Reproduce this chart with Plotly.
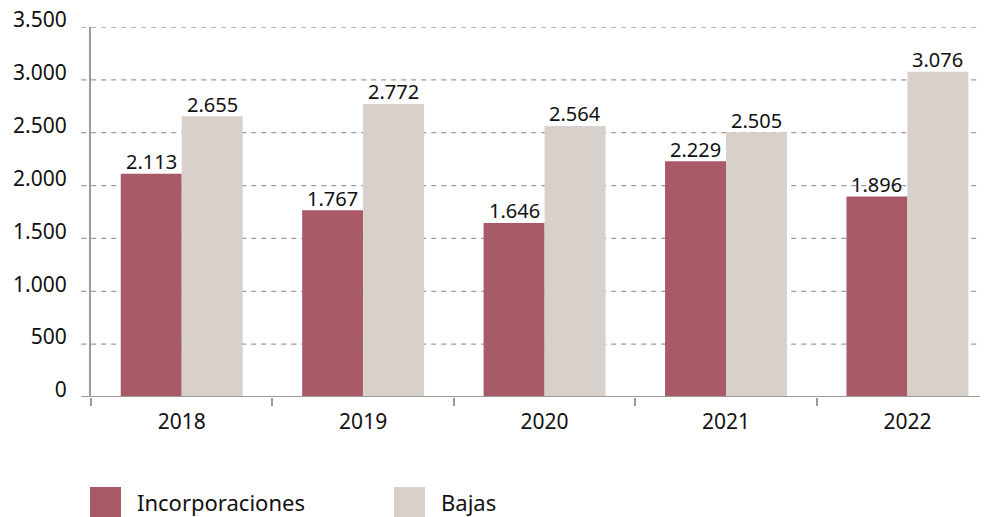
import plotly.graph_objects as go

years = ["2018", "2019", "2020", "2021", "2022"]
incorporaciones = [2113, 1767, 1646, 2229, 1896]
bajas = [2655, 2772, 2564, 2505, 3076]
series_names = ["Incorporaciones", "Bajas"]
y_ticks = [0, 500, 1000, 1500, 2000, 2500, 3000, 3500]

RED = "#a85a66"
BEIGE = "#d8d0cb"
GRID = "#9a9a9a"
FONT = "Noto Sans"
FS = 21
BARGAP = 0.328
PLOT_W = 889
X_RANGE = [-0.5, 4.4]

fig = go.Figure()
for name, vals, col in [(series_names[0], incorporaciones, RED), (series_names[1], bajas, BEIGE)]:
    fig.add_trace(go.Bar(x=years, y=vals, name=name, marker_color=col,
                         marker_line_width=0, showlegend=False))

# value labels just above each bar (plotly's own outside text sits too high)
px_per_cat = PLOT_W / (X_RANGE[1] - X_RANGE[0])
half_bar = (1 - BARGAP) / 4 * px_per_cat
for sign, vals in [(-1, incorporaciones), (1, bajas)]:
    for i, v in enumerate(vals):
        fig.add_annotation(x=i, y=v, xref="x", yref="y",
                           text=f"{v:,}".replace(",", "."), showarrow=False,
                           xshift=sign * half_bar, yanchor="bottom", yshift=-3.5,
                           font=dict(size=20, color="#111", family=FONT))

# dashed gridlines, stubbing a little past the y axis
for v in y_ticks[1:]:
    fig.add_shape(type="line", xref="paper", yref="y", x0=-0.011, x1=1, y0=v, y1=v,
                  line=dict(color=GRID, width=1.3, dash="5px,5px"), layer="below")
# x axis baseline
fig.add_shape(type="line", xref="paper", yref="y", x0=-0.011, x1=1, y0=0, y1=0,
              line=dict(color=GRID, width=2), layer="above")

# legend drawn by hand (big squares)
for i, (name, col) in enumerate(zip(series_names, [RED, BEIGE])):
    x0 = 90 + i * 304
    fig.add_shape(type="rect", xref="paper", yref="paper",
                  x0=(x0 - 91) / PLOT_W, x1=(x0 + 31 - 91) / PLOT_W,
                  y0=-(487 - 397) / 370, y1=-(517 - 397) / 370,
                  fillcolor=col, line_width=0)
    fig.add_annotation(text=name, xref="paper", yref="paper",
                       x=(x0 + 45 - 91) / PLOT_W, y=-(502 - 397) / 370,
                       xanchor="left", yanchor="middle", showarrow=False,
                       font=dict(size=FS + 1, color="#111", family=FONT))

fig.update_layout(
    width=990, height=517,
    margin=dict(l=91, r=10, t=27, b=120),
    paper_bgcolor="white", plot_bgcolor="white",
    barmode="group", bargap=BARGAP, bargroupgap=0,
    separators=",.",
    font=dict(family=FONT, size=FS, color="#111"),
    showlegend=False,
    xaxis=dict(type="category", range=X_RANGE, showline=False, showgrid=False,
               ticks="outside", tickson="boundaries", ticklen=8, tickwidth=2,
               tickcolor=GRID, ticklabelstandoff=10, tickfont=dict(size=FS),
               automargin=False),
    yaxis=dict(range=[0, 3500], tickvals=y_ticks, tickformat=",", showgrid=False,
               zeroline=False, showline=True, linecolor=GRID, linewidth=2, ticks="",
               ticklabelstandoff=18, ticklabelshift=-7, tickfont=dict(size=FS),
               automargin=False),
)

fig.write_html("out.html", config={"displayModeBar": False},
               post_script="document.body.style.margin='0';")
